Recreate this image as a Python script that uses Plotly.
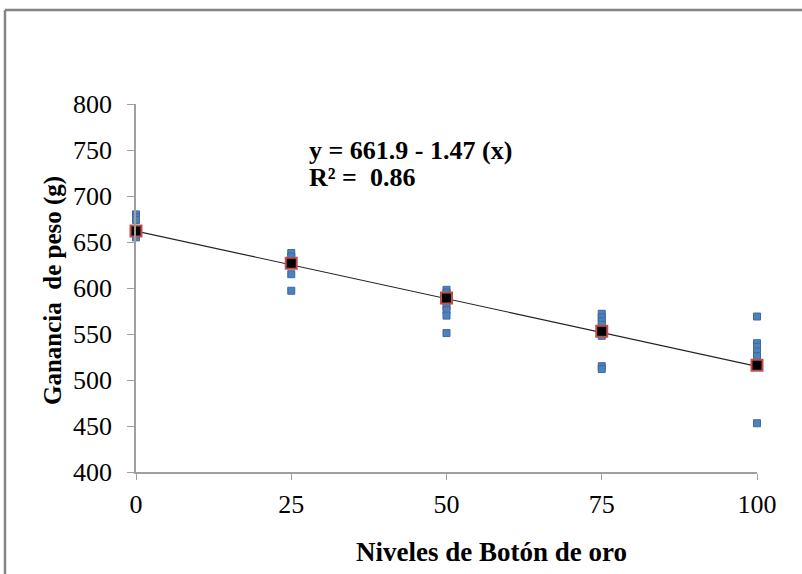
import plotly.graph_objects as go

# ---- data ----
levels = [0, 25, 50, 75, 100]
obs_x = [0, 0, 0, 0,
         25, 25, 25, 25,
         50, 50, 50, 50, 50, 50, 50,
         75, 75, 75, 75, 75, 75, 75,
         100, 100, 100, 100, 100, 100]
obs_y = [680, 677, 674, 655,
         638, 634, 615, 597,
         598, 595, 585, 580, 576, 570, 551,
         572, 568, 564, 560, 548, 515, 512,
         569, 540, 536, 531, 526, 453]
means = [662, 627, 589, 553, 516]
intercept = 661.9
slope = -1.47
x_ticks = [0, 25, 50, 75, 100]
y_ticks = [400, 450, 500, 550, 600, 650, 700, 750, 800]
x_title = "Niveles de Botón de oro"
y_title = "Ganancia\u00a0 de peso (g)"
eq_lines = ["y = 661.9 - 1.47 (x)", "R² =\u00a0 0.86"]

W, H = 802, 574
ML, MR, MT, MB = 136, 45, 104, 102
FONT = "'Times New Roman', Times, 'Liberation Serif', serif"
pw = W - ML - MR
ph = H - MT - MB


def px_x(p):
    return (p - ML) / pw


def px_y(p):
    return (H - MB - p) / ph


fig = go.Figure()
fig.add_trace(go.Scatter(
    x=obs_x, y=obs_y, mode="markers", cliponaxis=False,
    marker=dict(symbol="square", size=7, color="#4f81bd",
                line=dict(color="#3c6aa3", width=1)),
    showlegend=False, hoverinfo="x+y"))
line_x = [levels[0], levels[-1]]
line_y = [intercept + slope * v for v in line_x]
fig.add_trace(go.Scatter(
    x=line_x, y=line_y, mode="lines", cliponaxis=False,
    line=dict(color="#222222", width=1.2), showlegend=False))
fig.add_trace(go.Scatter(
    x=levels, y=means, mode="markers", cliponaxis=False,
    marker=dict(symbol="square", size=11, color="black",
                line=dict(color="#c0504d", width=2)),
    showlegend=False))

# regression equation (two rows)
for txt, ypx in zip(eq_lines, [150, 177]):
    fig.add_annotation(
        x=px_x(307), y=px_y(ypx), xref="paper", yref="paper",
        xanchor="left", yanchor="middle",
        text="<b>" + txt + "</b>", showarrow=False, align="left",
        font=dict(family=FONT, size=26, color="black"))

# axis titles
fig.add_annotation(
    x=px_x(491), y=px_y(552), xref="paper", yref="paper",
    xanchor="center", yanchor="middle", showarrow=False,
    text="<b>" + x_title + "</b>",
    font=dict(family=FONT, size=27, color="black"))
fig.add_annotation(
    x=px_x(53), y=px_y(291), xref="paper", yref="paper",
    xanchor="center", yanchor="middle", showarrow=False, textangle=-90,
    text="<b>" + y_title + "</b>",
    font=dict(family=FONT, size=25, color="black"))

# outer frame (left and top edges)
fx0 = px_x(5)
fy_top = px_y(10)
fig.add_shape(type="line", xref="paper", yref="paper",
              x0=fx0, x1=fx0, y0=px_y(H + 5), y1=fy_top,
              line=dict(color="#858585", width=2.5))
fig.add_shape(type="line", xref="paper", yref="paper",
              x0=fx0, x1=px_x(W + 5), y0=fy_top, y1=fy_top,
              line=dict(color="#858585", width=2.5))

fig.update_layout(
    width=W, height=H,
    margin=dict(l=ML, r=MR, t=MT, b=MB),
    paper_bgcolor="white", plot_bgcolor="white",
    font=dict(family=FONT, color="black"),
    xaxis=dict(
        range=[0, 100], tickvals=x_ticks, ticks="outside", ticklen=6,
        tickcolor="#a0a0a0", showline=True, linecolor="#a0a0a0", linewidth=1.5,
        showgrid=False, zeroline=False, tickfont=dict(size=26, family=FONT),
        ticklabelstandoff=2),
    yaxis=dict(
        range=[400, 800], tickvals=y_ticks, ticks="outside", ticklen=7,
        tickcolor="#a0a0a0", showline=True, linecolor="#a0a0a0", linewidth=1.5,
        showgrid=False, zeroline=False, tickfont=dict(size=26, family=FONT),
        ticklabelstandoff=10),
)

fig.write_html("out.html")
